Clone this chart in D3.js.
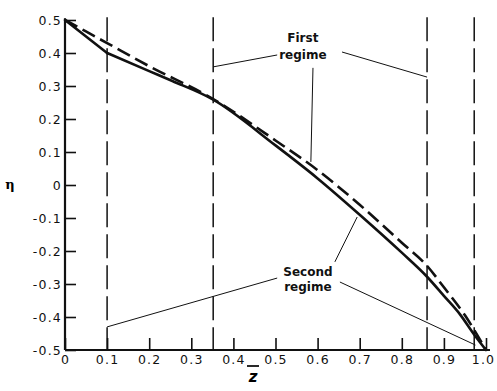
<!DOCTYPE html>
<html>
<head>
<meta charset="utf-8">
<script src="https://cdn.jsdelivr.net/npm/d3@7"></script>
<style>
  body { margin: 0; background: #fff; }
  svg { display: block; }
  .tick text { font-family: "DejaVu Sans", sans-serif; font-size: 12.5px; letter-spacing: 1.2px; fill: #111; }
  .note { font-family: "DejaVu Sans", sans-serif; font-size: 12px; font-weight: bold; fill: #111; }
</style>
</head>
<body>
<div id="chart"></div>
<script>
// solid curve (with kink at z = 0.1)
const solidZ   = [0, 0.1, 0.2, 0.255, 0.35, 0.5, 0.6, 0.7, 0.8, 0.86, 0.9, 0.94, 0.97, 1.0];
const solidEta = [0.5, 0.4, 0.345, 0.315, 0.26, 0.12, 0.02, -0.09, -0.205, -0.278, -0.336, -0.395, -0.45, -0.5];
// dashed curve
const dashZ   = [0, 0.1, 0.2, 0.35, 0.5, 0.6, 0.7, 0.8, 0.86, 0.9, 0.95, 1.0];
const dashEta = [0.5, 0.43, 0.36, 0.262, 0.135, 0.045, -0.06, -0.175, -0.245, -0.31, -0.395, -0.5];
// vertical dashed boundaries
const boundaries = [0.1, 0.352, 0.86, 0.972];
// tick values
const xTicks = [0, 0.1, 0.2, 0.3, 0.4, 0.5, 0.6, 0.7, 0.8, 0.9, 1.0];
const yTicks = [0.5, 0.4, 0.3, 0.2, 0.1, 0, -0.1, -0.2, -0.3, -0.4, -0.5];
// annotation labels and leader lines (data units)
const firstLabel = ['First', 'regime'];
const firstLeaders = [[[0.504, 0.394], [0.352, 0.358]], [[0.658, 0.403], [0.86, 0.327]], [[0.589, 0.355], [0.584, 0.07]]];
const secondLabel = ['Second', 'regime'];
const secondLeaders = [[[0.504, -0.282], [0.1, -0.43]], [[0.641, -0.233], [0.694, -0.097]], [[0.653, -0.294], [0.975, -0.485]]];

const width = 497, height = 391;
const svg = d3.select('#chart').append('svg').attr('width', width).attr('height', height);

const x = d3.scaleLinear().domain([0, 1]).range([65, 486]);
const y = d3.scaleLinear().domain([-0.5, 0.5]).range([350, 20]);

const fmt = d => d === 0 ? '0' : d.toFixed(1);

// axes with inward ticks
const xAxis = svg.append('g').attr('transform', 'translate(0,' + y(-0.5) + ')')
  .call(d3.axisBottom(x).tickValues(xTicks).tickSize(-12).tickPadding(5).tickFormat(fmt));
const yAxis = svg.append('g').attr('transform', 'translate(' + x(0) + ',0)')
  .call(d3.axisLeft(y).tickValues(yTicks).tickSize(-11).tickPadding(3).tickFormat(fmt));
[xAxis, yAxis].forEach(a => {
  a.select('.domain').attr('stroke', '#111').attr('stroke-width', 2.2);
  a.selectAll('.tick line').attr('stroke', '#111').attr('stroke-width', 1.6);
});
xAxis.select('.domain').attr('d', 'M' + x(0) + ',0H' + (x(1) + 4));
yAxis.select('.domain').attr('d', 'M0,' + y(0.505) + 'V' + y(-0.5));
// keep the last x label inside the window
xAxis.selectAll('.tick text').filter(d => d === 1).attr('dx', -3);

// vertical boundaries
svg.selectAll('.bound').data(boundaries).enter().append('line')
  .attr('x1', d => x(d)).attr('x2', d => x(d))
  .attr('y1', y(0.508)).attr('y2', y(-0.5))
  .attr('stroke', '#111').attr('stroke-width', 1.5).attr('stroke-dasharray', '24,7');

// curves
const line = d3.line().x(d => x(d[0])).y(d => y(d[1])).curve(d3.curveMonotoneX);
const straight = d3.line().x(d => x(d[0])).y(d => y(d[1]));
const solid = d3.zip(solidZ, solidEta);
// first solid piece is straight up to the kink, the rest smooth
svg.append('path').datum(solid.slice(0, 2)).attr('d', straight)
  .attr('fill', 'none').attr('stroke', '#111').attr('stroke-width', 2.6).attr('stroke-linecap', 'round');
svg.append('path').datum(solid.slice(1)).attr('d', line)
  .attr('fill', 'none').attr('stroke', '#111').attr('stroke-width', 2.6).attr('stroke-linecap', 'round');
svg.append('path').datum(d3.zip(dashZ, dashEta)).attr('d', line)
  .attr('fill', 'none').attr('stroke', '#111').attr('stroke-width', 2.6).attr('stroke-dasharray', '14,6');

// annotations
svg.selectAll('.lead').data(firstLeaders.concat(secondLeaders)).enter().append('path')
  .attr('d', straight).attr('fill', 'none').attr('stroke', '#111').attr('stroke-width', 1);

svg.append('text').attr('class', 'note').attr('text-anchor', 'middle')
  .selectAll('tspan').data(firstLabel).enter().append('tspan')
  .attr('x', x(0.565)).attr('y', (d, i) => y(0.433) + i * 17).text(d => d);
svg.append('text').attr('class', 'note').attr('text-anchor', 'middle')
  .selectAll('tspan').data(secondLabel).enter().append('tspan')
  .attr('x', x(0.577)).attr('y', (d, i) => y(-0.276) + i * 15).text(d => d);

// axis titles
svg.append('text').attr('x', 10).attr('y', y(0) + 4).attr('text-anchor', 'middle')
  .style('font-family', '"DejaVu Serif", serif').style('font-size', '13px').style('font-weight', 'bold')
  .text('η');
svg.append('text').attr('x', 253).attr('y', 382).attr('text-anchor', 'middle')
  .style('font-family', '"DejaVu Sans", sans-serif').style('font-size', '15px').style('font-weight', 'bold').style('font-style', 'italic')
  .text('z');
svg.append('line').attr('x1', 247).attr('x2', 259).attr('y1', 366).attr('y2', 366)
  .attr('stroke', '#111').attr('stroke-width', 1.8);
</script>
</body>
</html>
